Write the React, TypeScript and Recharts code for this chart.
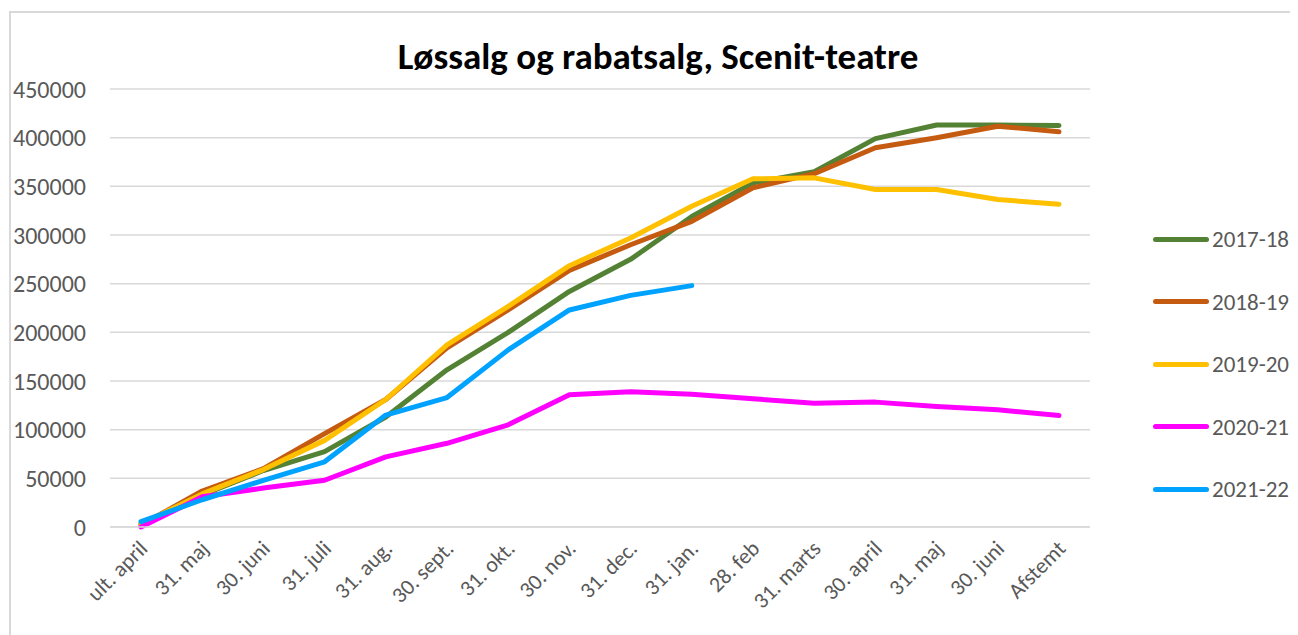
import React from 'react';
import { LineChart, Line, XAxis, YAxis, CartesianGrid, Legend } from 'recharts';

const FONT = 'Calibri, Carlito, Lato, sans-serif';

const categories: string[] = [
  'ult. april', '31. maj', '30. juni', '31. juli', '31. aug.', '30. sept.', '31. okt.', '30. nov.',
  '31. dec.', '31. jan.', '28. feb', '31. marts', '30. april', '31. maj', '30. juni', 'Afstemt',
];

const s1718: number[] = [3000, 33000, 58000, 77500, 113000, 161500, 200000, 242000, 275000, 319000, 353600, 365000, 399000, 413000, 413000, 412500];
const s1819: number[] = [2000, 37000, 60000, 96000, 131000, 184000, 223000, 263700, 290000, 314000, 348500, 363000, 389600, 400000, 411800, 406000];
const s1920: number[] = [3000, 34000, 59000, 89000, 131000, 187000, 226600, 268500, 297000, 329500, 357700, 358700, 346700, 346700, 336400, 331600];
const s2021: number[] = [0, 31000, 40000, 48000, 72000, 86000, 105000, 135800, 139000, 136500, 131700, 127200, 128300, 123800, 120400, 114500];
const s2122: (number | null)[] = [5500, 28000, 48000, 67000, 115000, 133000, 182000, 223000, 238000, 248000, null, null, null, null, null, null];

const yTicks: number[] = [0, 50000, 100000, 150000, 200000, 250000, 300000, 350000, 400000, 450000];

const series = [
  { key: '2017-18', values: s1718, color: '#548235' },
  { key: '2018-19', values: s1819, color: '#C55A11' },
  { key: '2019-20', values: s1920, color: '#FFC000' },
  { key: '2020-21', values: s2021, color: '#FF00FF' },
  { key: '2021-22', values: s2122, color: '#00A2FF' },
];

const data = categories.map((name, i) => {
  const row: { [k: string]: string | number | null } = { name };
  series.forEach((s) => {
    row[s.key] = s.values[i];
  });
  return row;
});

const XTick = (props: any) => {
  const { x, y, payload } = props;
  return (
    <g transform={`translate(${x - 3},${y + 4})`}>
      <text
        x={0}
        y={0}
        textAnchor="end"
        dy="0.7em"
        fill="#595959"
        fontSize={22}
        fontFamily={FONT}
        transform="rotate(-45)"
      >
        {payload.value}
      </text>
    </g>
  );
};

const LegendBox = () => (
  <div style={{ fontFamily: FONT }}>
    {series.map((s) => (
      <div key={s.key} style={{ display: 'flex', alignItems: 'center', height: 62.5, whiteSpace: 'nowrap' }}>
        <div style={{ width: 56, height: 5, borderRadius: 3, background: s.color, marginRight: 3 }} />
        <span style={{ fontSize: 23, color: '#595959' }}>{s.key}</span>
      </div>
    ))}
  </div>
);

export default function App() {
  return (
    <div style={{ position: 'relative', width: 1290, height: 627, background: '#fff' }}>
      <div
        style={{
          position: 'absolute',
          left: 1,
          top: 3,
          width: 1300,
          height: 640,
          borderLeft: '2px solid #d9d9d9',
          borderTop: '2px solid #d9d9d9',
        }}
      />
      <div
        style={{
          position: 'absolute',
          left: 0,
          width: 1300,
          top: 26,
          textAlign: 'center',
          fontFamily: FONT,
          fontWeight: 'bold',
          fontSize: 37,
          color: '#000',
        }}
      >
        Løssalg og rabatsalg, Scenit-teatre
      </div>
      <LineChart
        width={1290}
        height={627}
        data={data}
        margin={{ top: 81, right: 58, bottom: 0, left: 0 }}
        style={{ position: 'absolute', left: 0, top: 0 }}
      >
        <CartesianGrid vertical={false} stroke="#d9d9d9" strokeWidth={1.5} />
        <XAxis
          dataKey="name"
          interval={0}
          padding={{ left: 31, right: 31 }}
          axisLine={{ stroke: '#d9d9d9', strokeWidth: 1.5 }}
          tickLine={false}
          tick={<XTick />}
          height={108}
        />
        <YAxis
          domain={[0, 450000]}
          ticks={yTicks}
          interval={0}
          width={102}
          axisLine={false}
          tickLine={false}
          tickSize={0}
          tickMargin={24}
          tick={{ fill: '#595959', fontSize: 24, fontFamily: FONT }}
        />
        <Legend
          layout="vertical"
          align="right"
          verticalAlign="top"
          content={<LegendBox />}
          wrapperStyle={{ left: 1145, top: 200, width: 150 }}
        />
        {series.map((s) => (
          <Line
            key={s.key}
            type="linear"
            dataKey={s.key}
            stroke={s.color}
            strokeWidth={5}
            strokeLinecap="round"
            strokeLinejoin="round"
            dot={false}
            activeDot={false}
            isAnimationActive={false}
          />
        ))}
      </LineChart>
    </div>
  );
}
